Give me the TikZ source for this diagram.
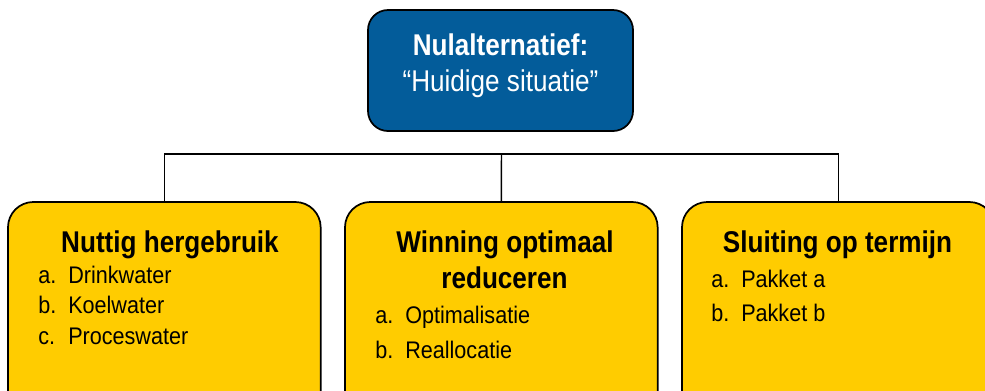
\documentclass[tikz,border=0pt]{standalone}
\usepackage{fontspec}
\setmainfont{Liberation Sans}
\newfontfamily\ttlfont{Liberation Sans}[FakeStretch=0.87]
\newfontfamily\itmfont{Liberation Sans}[FakeStretch=0.9]
\definecolor{topblue}{HTML}{035C9A}
\definecolor{boxgold}{HTML}{FFCC00}
\begin{document}
\begin{tikzpicture}[x=0.75pt,y=-0.75pt,
  basebox/.style={draw=black, line width=1.3pt, inner sep=0pt, outer sep=0pt, anchor=north west},
  topbox/.style={basebox, fill=topblue, rounded corners=15pt, minimum width=198.75pt, minimum height=90.75pt},
  catbox/.style={basebox, fill=boxgold, rounded corners=19pt, minimum width=234.5pt, minimum height=172.5pt},
  ttl/.style={anchor=base, inner sep=0pt, font=\ttlfont\bfseries\fontsize{22.5pt}{27pt}\selectfont},
  sub/.style={anchor=base, inner sep=0pt, font=\ttlfont\fontsize{22.5pt}{27pt}\selectfont},
  itm/.style={anchor=base west, inner sep=0pt, font=\itmfont\fontsize{18pt}{21pt}\selectfont},
  conn/.style={draw=black, line width=1.1pt}]
\useasboundingbox (0,0) rectangle (985,390);
\clip (0,0) rectangle (985,390);

% top box
\node[topbox] (top) at (368,10) {};
\node[ttl, text=white] (topt) at (500.5,55) {Nulalternatief:};
\node[sub, text=white] (tops) at (500.5,91) {“Huidige situatie”};

% category boxes
\node[catbox] (boxA) at (8,202) {};
\node[catbox] (boxB) at (345,202) {};
\node[catbox] (boxC) at (682,202) {};

% connectors
\coordinate (bar) at (501.5,154);
\draw[conn] (boxA.north) |- (bar) -| (boxC.north);
\draw[conn] (boxB.north) -- (bar);

% box A text
\node[ttl] (tA) at (170,252) {Nuttig hergebruik};
\node[itm] (la1) at (38,283) {a.};
\node[itm] (ia1) at (68,283) {Drinkwater};
\node[itm] (la2) at (38,313) {b.};
\node[itm] (ia2) at (68,313) {Koelwater};
\node[itm] (la3) at (38,344) {c.};
\node[itm] (ia3) at (68,344) {Proceswater};

% box B text
\node[ttl] (tB1) at (505,252) {Winning optimaal};
\node[ttl] (tB2) at (504.5,288) {reduceren};
\node[itm] (lb1) at (375,323) {a.};
\node[itm] (ib1) at (405,323) {Optimalisatie};
\node[itm] (lb2) at (375,358) {b.};
\node[itm] (ib2) at (405,358) {Reallocatie};

% box C text
\node[ttl] (tC) at (837.5,252) {Sluiting op termijn};
\node[itm] (lc1) at (711,287) {a.};
\node[itm] (ic1) at (741,287) {Pakket a};
\node[itm] (lc2) at (711,321) {b.};
\node[itm] (ic2) at (741,321) {Pakket b};
\end{tikzpicture}
\end{document}
